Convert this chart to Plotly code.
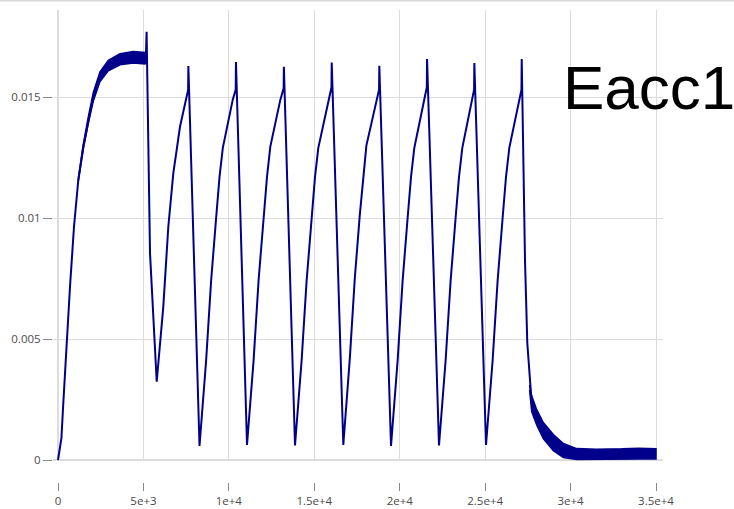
import plotly.graph_objects as go

# ---- data (centre line of the signal) ----
time_x = [
    0, 60, 117, 200, 310, 509, 702, 936, 1188, 1481, 1773, 2066, 2458, 2944, 3629, 4407, 5092, 5140,
    5185, 5385, 5777,
    6163, 6456, 6749, 7140, 7433, 7615, 7630, 8282,
    8668, 8961, 9254, 9453, 9646, 9938, 10231, 10400, 10415, 11062,
    11448, 11741, 12034, 12233, 12426, 12718, 13011, 13205, 13220, 13871,
    14257, 14550, 14843, 15042, 15235, 15527, 15820, 16005, 16020, 16698,
    17080, 17370, 17660, 17860, 18050, 18340, 18630, 18790, 18805, 19490,
    19876, 20169, 20462, 20661, 20854, 21146, 21439, 21585, 21600, 22299,
    22685, 22978, 23271, 23470, 23663, 23955, 24200, 24352, 24367, 25050,
    25436, 25729, 26022, 26221, 26414, 26706, 26999, 27125, 27140,
    27233, 27332, 27467, 27666, 27724, 28017, 28403, 28795, 29381, 29966, 30727, 32307, 33870, 35000,
]
signal_y = [
    0.0, 0.0003, 0.00055, 0.0009, 0.00235, 0.00496, 0.00716, 0.00964, 0.01157, 0.01295, 0.01405, 0.01501,
    0.01584, 0.0163, 0.01656, 0.01664, 0.0166, 0.0166,
    0.0177, 0.00855, 0.00324,
    0.00634, 0.00964, 0.01185, 0.01377, 0.01467, 0.01529, 0.01628, 0.00058,
    0.0041, 0.0074, 0.0100, 0.0117, 0.0129, 0.0139, 0.0149, 0.0153, 0.01645, 0.00062,
    0.00413, 0.00744, 0.01005, 0.01171, 0.01295, 0.01391, 0.01488, 0.01536, 0.01625, 0.0006,
    0.0041, 0.0074, 0.0100, 0.0117, 0.0129, 0.0139, 0.0149, 0.0154, 0.01642, 0.00062,
    0.0042, 0.0075, 0.0101, 0.0117, 0.0130, 0.0139, 0.0149, 0.0153, 0.01629, 0.00058,
    0.0041, 0.0074, 0.0100, 0.0117, 0.0129, 0.0139, 0.0149, 0.0154, 0.01657, 0.0006,
    0.0041, 0.0074, 0.0100, 0.0117, 0.0129, 0.0139, 0.0148, 0.0153, 0.0164, 0.00062,
    0.0041, 0.0074, 0.0100, 0.0117, 0.0129, 0.0139, 0.0149, 0.0153, 0.01657,
    0.0124, 0.00826, 0.00483, 0.00275, 0.00235, 0.00179, 0.00124, 0.00083, 0.0005, 0.00029, 0.0003,
    0.00034, 0.00038, 0.00034,
]

# noise envelope of the first rise / plateau
plateau_x = [1188, 1481, 1773, 2066, 2458, 2944, 3629, 4407, 5092, 5140]
plateau_upper = [0.01162, 0.01305, 0.01418, 0.01519, 0.01604, 0.01652, 0.01679, 0.01688, 0.01684, 0.0168]
plateau_lower = [0.01152, 0.01285, 0.01392, 0.01483, 0.01564, 0.01608, 0.01633, 0.0164, 0.01636, 0.0164]

# noise envelope of the tail
tail_x = [27600, 27724, 28017, 28403, 28990, 29576, 30357, 31500, 33000, 34000, 35000]
tail_upper = [0.0031, 0.00265, 0.00208, 0.00155, 0.00105, 0.00068, 0.00047, 0.00044, 0.00046, 0.00049, 0.00047]
tail_lower = [0.0029, 0.0020, 0.00145, 0.00088, 0.00038, 0.0001, 0.00002, 0.00003, 0.00004, 0.00004, 0.00004]

x_tickvals = [0, 5000, 10000, 15000, 20000, 25000, 30000, 35000]
x_ticktext = ["0", "5e+3", "1e+4", "1.5e+4", "2e+4", "2.5e+4", "3e+4", "3.5e+4"]
y_tickvals = [0, 0.005, 0.01, 0.015]
y_ticktext = ["0", "0.005", "0.01", "0.015"]

LINE = "#00008b"
GRID = "#dcdcdc"

fig = go.Figure()

for bx, bu, bl in [(plateau_x, plateau_upper, plateau_lower), (tail_x, tail_upper, tail_lower)]:
    fig.add_trace(go.Scatter(
        x=bx + bx[::-1], y=bu + bl[::-1], mode="lines", fill="toself",
        fillcolor=LINE, line=dict(color=LINE, width=1.5), hoverinfo="skip", showlegend=False,
    ))

fig.add_trace(go.Scatter(
    x=time_x, y=signal_y, mode="lines",
    line=dict(color=LINE, width=2), showlegend=False,
))

fig.update_layout(
    width=734, height=509,
    margin=dict(l=53, r=71, t=10, b=27),
    paper_bgcolor="white", plot_bgcolor="white",
    font=dict(family="Open Sans, sans-serif", size=11.5, color="#4a4a4a"),
    xaxis=dict(
        range=[-293, 35409], anchor="free", position=0, automargin=False,
        tickvals=x_tickvals, ticktext=x_ticktext,
        showgrid=True, gridcolor=GRID, gridwidth=1,
        zeroline=True, zerolinecolor=GRID, zerolinewidth=1.5,
        ticks="outside", ticklen=8, tickcolor="#888", showline=False,
    ),
    yaxis=dict(
        range=[-0.0000413, 0.018595], domain=[0.0445, 1], automargin=False,
        tickvals=y_tickvals, ticktext=y_ticktext,
        showgrid=True, gridcolor=GRID, gridwidth=1,
        zeroline=True, zerolinecolor=GRID, zerolinewidth=2,
        ticks="outside", ticklen=9, tickcolor="#888", showline=False,
    ),
    shapes=[dict(
        type="line", xref="paper", yref="paper",
        x0=-53 / 610, x1=(734 - 53) / 610, y0=(482 - 0.5) / 472, y1=(482 - 0.5) / 472,
        line=dict(color="#d8d8d8", width=2),
    )],
    annotations=[dict(
        text="Eacc1", xref="paper", yref="paper",
        x=(561 - 53) / 610, y=(482 - 87) / 472, xanchor="left", yanchor="middle",
        showarrow=False,
        font=dict(family="Liberation Sans, Arial, sans-serif", size=62, color="black"),
    )],
)

fig.write_html("out.html")
